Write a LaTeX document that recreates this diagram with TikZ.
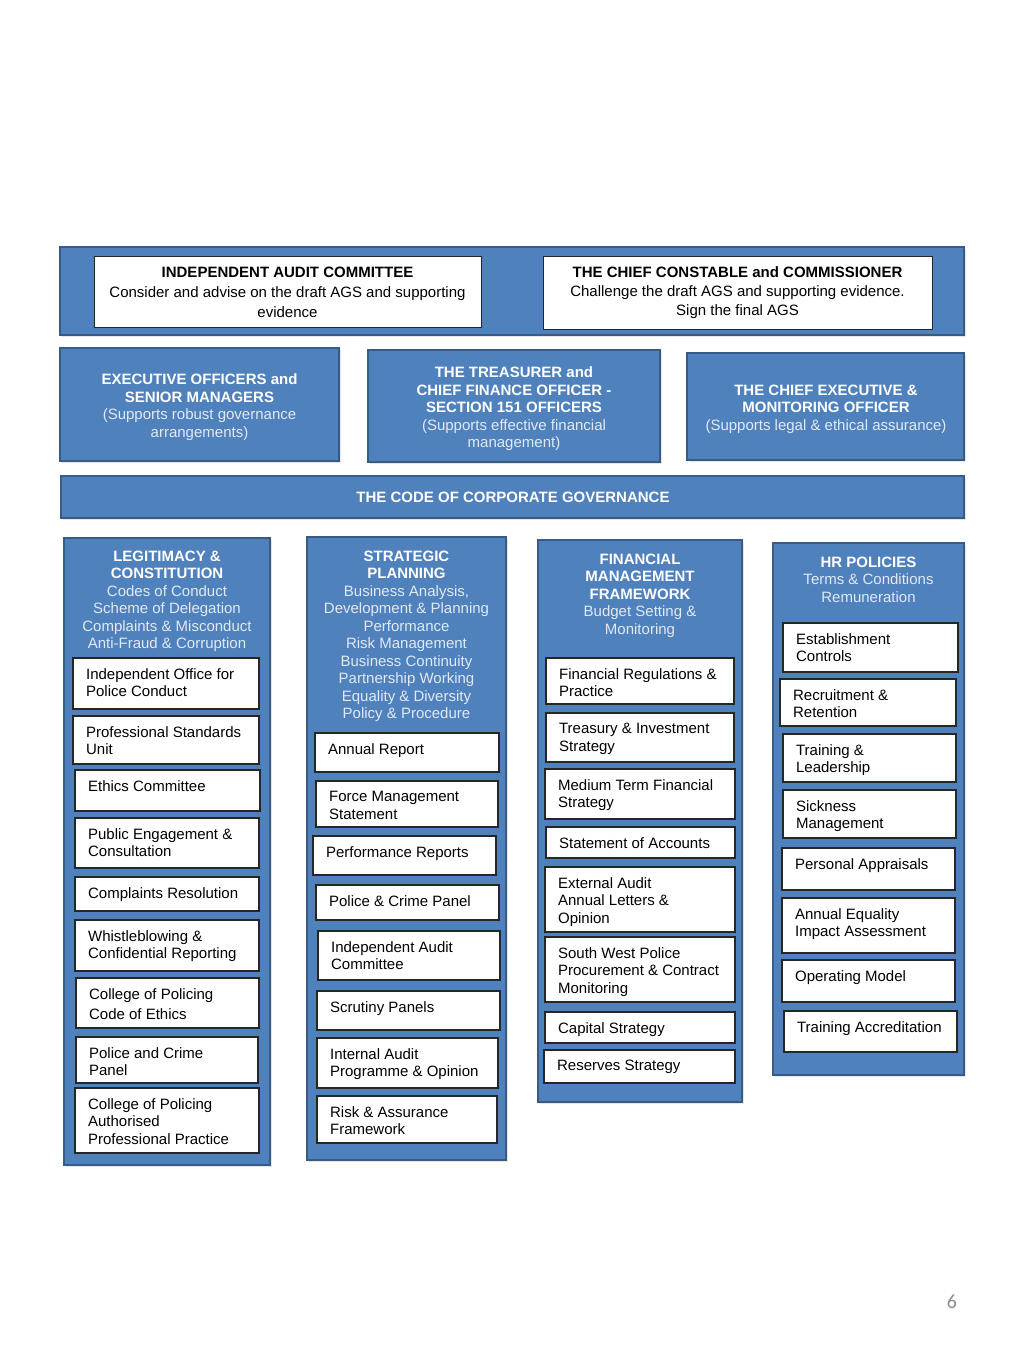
\documentclass[tikz,border=0pt]{standalone}
\usepackage{fontspec}
\setmainfont{Liberation Sans}
\newfontfamily\pagefont{Carlito}
\usetikzlibrary{shadows}
\definecolor{boxblue}{HTML}{4F81BD}
\definecolor{bordblue}{HTML}{375A86}
\definecolor{subtext}{HTML}{E2E9F3}
\definecolor{pagegray}{HTML}{8C8C8C}
\newcommand\hd[1]{\textcolor{white}{\bfseries #1}}
\newcommand\mkrect[6]{\node[#2, minimum width={(#5-#3)*1pt}, minimum height={(#6-#4)*1pt}] (#1) at ({(#3+#5)/2},{(#4+#6)/2}) {};}
\newcommand\mkinner[6]{\mkrect{#1}{whitebox}{#2}{#3}{#4}{#5}
  \node[itext] (#1t) at ([xshift=13.5pt,yshift=-10.9pt]#1.north west) {#6};}
\begin{document}
\begin{tikzpicture}[x=1pt,y=-1pt,
  bluebox/.style={draw=bordblue, fill=boxblue, line width=2.5pt, inner sep=0pt,
    drop shadow={shadow xshift=1.5pt, shadow yshift=-1.5pt, opacity=0.2}},
  whitebox/.style={draw=black!85, fill=white, line width=1.2pt, inner sep=0pt,
    drop shadow={shadow xshift=1pt, shadow yshift=-1pt, opacity=0.2}},
  topwhite/.style={draw=black!85, fill=white, line width=1pt, inner sep=0pt},
  itext/.style={anchor=north west, inner sep=0pt, align=left, text=black,
    font=\fontsize{15}{17.5}\selectfont},
  htext/.style={anchor=north, inner sep=0pt, align=center, text=subtext,
    font=\fontsize{15}{17.5}\selectfont},
  ttext/.style={anchor=north, inner sep=0pt, align=center, text=black,
    font=\fontsize{15}{20}\selectfont},
]
\useasboundingbox[fill=white] (0,0) rectangle (1024,1365);

% top band
\mkrect{topband}{bluebox}{60}{247}{964}{335}
\mkrect{iac}{topwhite}{94}{256}{481}{327}
\mkrect{ccc}{topwhite}{543}{256}{932}{329}
\node[ttext] (iact) at (287.5,266.8) {\textbf{INDEPENDENT AUDIT COMMITTEE}\\Consider and advise on the draft AGS and supporting\\evidence};
\node[ttext, font=\fontsize{15}{19}\selectfont] (ccct) at (737.5,266.8) {\textbf{THE CHIEF CONSTABLE and COMMISSIONER}\\Challenge the draft AGS and supporting evidence.\\Sign the final AGS};

% second row
\mkrect{exec}{bluebox}{60}{348}{339}{461}
\mkrect{treas}{bluebox}{368}{350}{660}{462}
\mkrect{chief}{bluebox}{687}{353}{964}{460}
\node[htext] (exect) at (199.5,373.8) {\hd{EXECUTIVE OFFICERS and}\\\hd{SENIOR MANAGERS}\\(Supports robust governance\\arrangements)};
\node[htext] (treast) at (514,366.8) {\hd{THE TREASURER and}\\\hd{CHIEF FINANCE OFFICER -}\\\hd{SECTION 151 OFFICERS}\\(Supports effective financial\\management)};
\node[htext] (chieft) at (826,384.8) {\hd{THE CHIEF EXECUTIVE \&}\\\hd{MONITORING OFFICER}\\(Supports legal \& ethical assurance)};

% code band
\mkrect{code}{bluebox}{61}{476}{964}{518}
\node[htext, anchor=center] (codet) at (513,497.2) {\hd{THE CODE OF CORPORATE GOVERNANCE}};

% column 1
\mkrect{col1}{bluebox}{64}{538}{270}{1165}
\node[htext] (col1t) at (167,550.8) {\hd{LEGITIMACY \&}\\\hd{CONSTITUTION}\\Codes of Conduct\\Scheme of Delegation\\Complaints \& Misconduct\\Anti-Fraud \& Corruption};
\mkinner{c1a}{73}{658}{259}{709}{Independent Office for\\Police Conduct}
\mkinner{c1b}{73}{716}{259}{764}{Professional Standards\\Unit}
\mkinner{c1c}{75}{770}{260}{811}{Ethics Committee}
\mkinner{c1d}{75}{818}{259}{868}{Public Engagement \&\\Consultation}
\mkinner{c1e}{75}{877}{259}{911}{Complaints Resolution}
\mkinner{c1f}{75}{920}{259}{971}{Whistleblowing \&\\Confidential Reporting}
\mkinner{c1g}{76}{978}{259}{1028}{College of Policing\\[2.5pt]Code of Ethics}
\mkinner{c1h}{76}{1037}{258}{1083}{Police and Crime\\Panel}
\mkinner{c1i}{75}{1088}{259}{1153}{College of Policing\\Authorised\\Professional Practice}

% column 2
\mkrect{col2}{bluebox}{307}{537}{506}{1160}
\node[htext] (col2t) at (406.5,550.8) {\hd{STRATEGIC}\\\hd{PLANNING}\\Business Analysis,\\Development \& Planning\\Performance\\Risk Management\\Business Continuity\\Partnership Working\\Equality \& Diversity\\Policy \& Procedure};
\mkinner{c2a}{315}{733}{499}{772}{Annual Report}
\mkinner{c2b}{316}{781}{498}{827}{Force Management\\Statement}
\mkinner{c2c}{313}{836}{496}{875}{Performance Reports}
\mkinner{c2d}{316}{885}{499}{920}{Police \& Crime Panel}
\mkinner{c2e}{318}{931}{500}{980}{Independent Audit\\Committee}
\mkinner{c2f}{317}{991}{500}{1030}{Scrutiny Panels}
\mkinner{c2g}{317}{1038}{498}{1088}{Internal Audit\\Programme \& Opinion}
\mkinner{c2h}{317}{1096}{497}{1143}{Risk \& Assurance\\Framework}

% column 3
\mkrect{col3}{bluebox}{538}{540}{742}{1102}
\node[htext] (col3t) at (640,553.8) {\hd{FINANCIAL}\\\hd{MANAGEMENT}\\\hd{FRAMEWORK}\\Budget Setting \&\\Monitoring};
\mkinner{c3a}{546}{658}{734}{704}{Financial Regulations \&\\Practice}
\mkinner{c3b}{546}{713}{734}{762}{Treasury \& Investment\\Strategy}
\mkinner{c3c}{545}{769}{735}{819}{Medium Term Financial\\Strategy}
\mkinner{c3d}{546}{827}{735}{858}{Statement of Accounts}
\mkinner{c3e}{545}{867}{735}{932}{External Audit\\Annual Letters \&\\Opinion}
\mkinner{c3f}{545}{937}{735}{1002}{South West Police\\Procurement \& Contract\\Monitoring}
\mkinner{c3g}{545}{1012}{735}{1043}{Capital Strategy}
\mkinner{c3h}{544}{1050}{735}{1083}{Reserves Strategy}

% column 4
\mkrect{col4}{bluebox}{773}{543}{964}{1075}
\node[htext] (col4t) at (868.5,556.8) {\hd{HR POLICIES}\\Terms \& Conditions\\Remuneration};
\mkinner{c4a}{783}{623}{958}{672}{Establishment\\Controls}
\mkinner{c4b}{780}{679}{956}{726}{Recruitment \&\\Retention}
\mkinner{c4c}{783}{734}{956}{782}{Training \&\\Leadership}
\mkinner{c4d}{783}{790}{956}{838}{Sickness\\Management}
\mkinner{c4e}{782}{848}{955}{890}{Personal Appraisals}
\mkinner{c4f}{782}{898}{955}{953}{Annual Equality\\Impact Assessment}
\mkinner{c4g}{782}{960}{955}{1002}{Operating Model}
\mkinner{c4h}{784}{1011}{957}{1052}{Training Accreditation}

% page number
\node[inner sep=0pt, text=pagegray, font=\pagefont\fontsize{20}{24}\selectfont] (pagenum) at (952,1302) {6};
\end{tikzpicture}
\end{document}
